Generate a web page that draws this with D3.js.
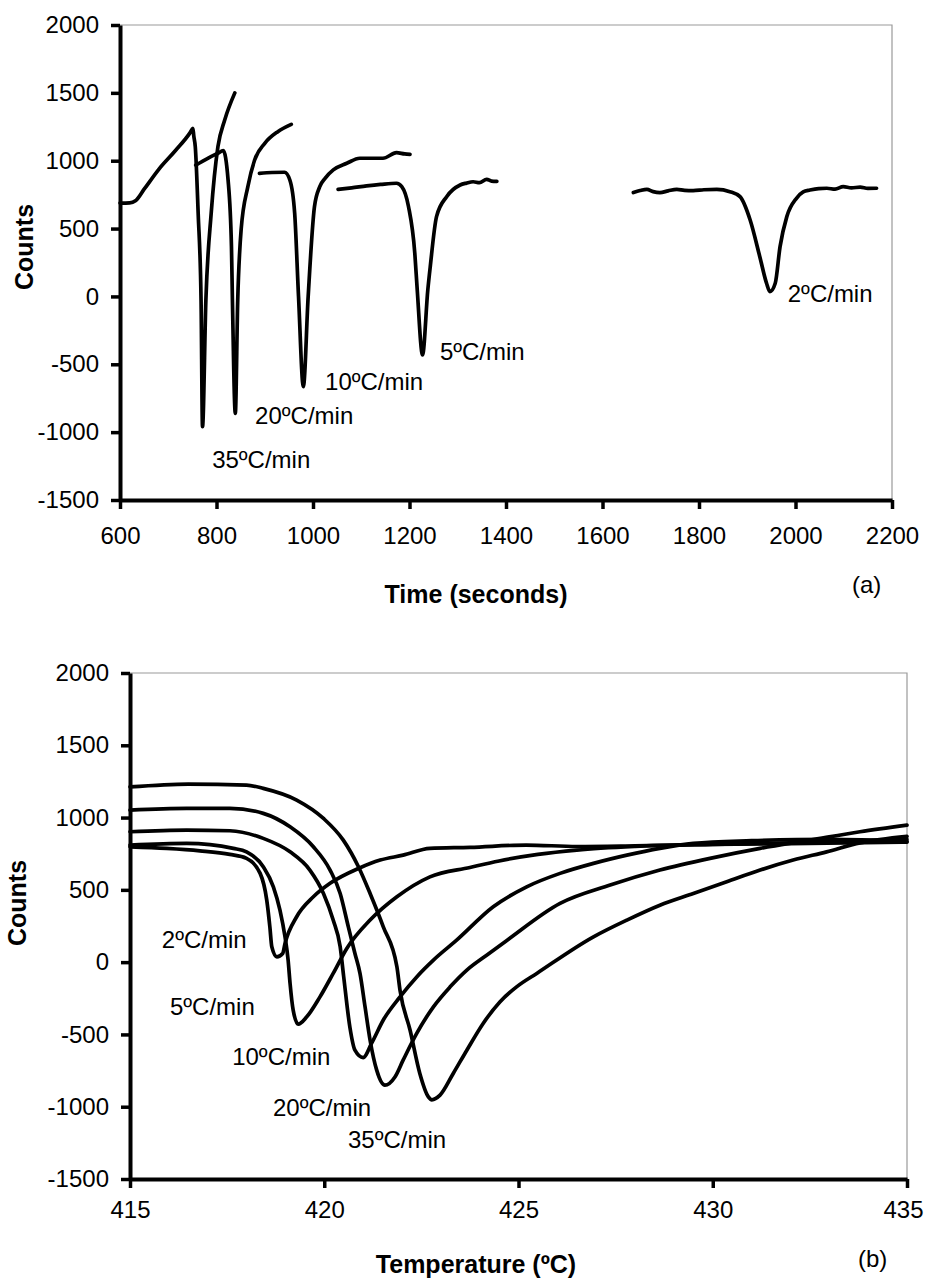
<!DOCTYPE html>
<html>
<head>
<meta charset="utf-8">
<script src="https://cdn.jsdelivr.net/npm/d3@7"></script>
<style>
  body { margin: 0; background: #fff; }
  text { font-family: 'Liberation Sans', Arial, sans-serif; fill: #000; }
</style>
</head>
<body>
<svg id="chart" width="925" height="1282"></svg>
<script>
// ---- shared ticks
const countTicks = [-1500, -1000, -500, 0, 500, 1000, 1500, 2000]
const timeTicks = [600, 800, 1000, 1200, 1400, 1600, 1800, 2000, 2200]
const tempTicks = [415, 420, 425, 430, 435]

// ---- panel (a): counts vs time (s), one trace per heating rate
const timeRate35 = [
  [600, 688], [620, 690], [632, 705], [650, 790], [680, 935], [715, 1075],
  [745, 1205], [751, 1238], [753, 1180], [756, 1104], [762, 613], [768, -26],
  [771, -960], [778, -26], [789, 613], [803, 1104], [817, 1300], [838, 1500],
]
const timeRate20 = [
  [757, 968], [782, 1018], [803, 1055], [814, 1074], [824, 858], [831, 367],
  [833, -26], [839, -861], [844, -26], [851, 490], [865, 809], [879, 1005],
  [900, 1128], [927, 1214], [955, 1268],
]
const timeRate10 = [
  [889, 907], [915, 913], [941, 915], [952, 858], [962, 613], [970, 0],
  [980, -665], [990, 0], [1003, 661], [1014, 809], [1025, 870], [1042, 932],
  [1070, 981], [1097, 1018], [1145, 1018], [1173, 1059], [1190, 1050], [1201, 1047],
]
const timeRate5 = [
  [1052, 789], [1080, 800], [1111, 814], [1140, 825], [1173, 834], [1184, 809],
  [1198, 661], [1211, 318], [1216, 50], [1227, -431], [1238, 50], [1243, 219],
  [1256, 588], [1277, 735], [1305, 821], [1318, 835], [1332, 845], [1345, 838],
  [1360, 863], [1370, 850], [1381, 848],
]
const timeRate2 = [
  [1664, 765], [1678, 780], [1692, 789], [1705, 772], [1719, 765], [1736, 778],
  [1754, 789], [1770, 782], [1788, 780], [1810, 786], [1837, 789], [1864, 772],
  [1885, 735], [1906, 563], [1926, 293], [1940, 97], [1947, 35], [1958, 97],
  [1968, 367], [1982, 588], [2002, 723], [2016, 770], [2030, 784], [2048, 795],
  [2065, 797], [2082, 790], [2099, 809], [2116, 800], [2134, 805], [2150, 796],
  [2168, 797],
]

// ---- panel (b): counts vs temperature (ºC)
const tempRate35 = [
  [415, 1212], [416.5, 1232], [418.0, 1225], [418.43, 1202], [419.29, 1121],
  [419.98, 994], [420.49, 844], [420.88, 660], [421.18, 475], [421.52, 244],
  [421.87, -32], [421.95, -194], [422.21, -471], [422.46, -770], [422.68, -932],
  [422.77, -952], [422.98, -920], [423.32, -770], [423.67, -609], [424.09, -424],
  [424.52, -275], [424.95, -171], [425.47, -78], [426.93, 175], [427.79, 291],
  [428.64, 394], [429.5, 475], [430.36, 556], [431.22, 637], [432.07, 706],
  [432.93, 763], [433.79, 825], [435, 870],
]
const tempRate20 = [
  [415, 1052], [416.46, 1064], [417.57, 1064], [418.43, 1029], [419.12, 936],
  [419.72, 798], [420.15, 637], [420.41, 475], [420.62, 244], [420.79, 60],
  [420.92, -78], [421.05, -309], [421.18, -540], [421.35, -747], [421.56, -851],
  [421.82, -794], [422.03, -678], [422.38, -493], [422.81, -309], [423.24, -171],
  [423.67, -55], [424.18, 48], [424.7, 150], [426.07, 406], [427.36, 533],
  [428.64, 637], [429.93, 718], [431.22, 787], [432.5, 844], [433.79, 902], [435, 948],
]
const tempRate10 = [
  [415, 902], [416.46, 913], [417.57, 909], [418.43, 856], [419.12, 763],
  [419.63, 637], [419.98, 475], [420.23, 291], [420.41, 106], [420.5, -100],
  [420.66, -450], [420.79, -609], [421.0, -660], [421.22, -560], [421.52, -400],
  [421.95, -240], [422.38, -102], [422.81, 14], [423.4, 150],
  [424.35, 383], [425.21, 521], [426.07, 614], [426.93, 683], [427.79, 740],
  [428.64, 787], [429.5, 821], [431, 840], [433, 850], [435, 835],
]
const tempRate5 = [
  [415, 810], [416.46, 821], [417.66, 787], [418.0, 763], [418.43, 660],
  [418.69, 521], [418.86, 360], [418.99, 175], [419.07, 14], [419.12, -147],
  [419.2, -332], [419.33, -429], [419.55, -378], [419.89, -240], [420.23, -78],
  [420.58, 95], [421.18, 291], [421.87, 452], [422.72, 590], [423.75, 655],
  [424.5, 700], [425.5, 745], [426.5, 775], [428, 800], [430, 815], [432, 825], [435, 850],
]
const tempRate2 = [
  [415, 798], [415.94, 787], [416.8, 770], [417.57, 745], [418.0, 718],
  [418.35, 614], [418.52, 429], [418.6, 244], [418.65, 106], [418.78, 37],
  [418.93, 60], [418.99, 129], [419.29, 314], [419.72, 452], [420.15, 545],
  [420.88, 648], [421.44, 706], [422.03, 740], [422.72, 787], [423.75, 794],
  [425.2, 810], [426.5, 800], [428, 805], [430, 815], [432, 820], [435, 830],
]

const svg = d3.select('#chart')

svg.append('rect').attr('width', 925).attr('height', 1282).attr('fill', '#fff')

function drawPanel(cfg) {
  const x = d3.scaleLinear().domain(cfg.xDomain).range(cfg.xRange)
  const y = d3.scaleLinear().domain([-1500, 2000]).range(cfg.yRange)

  const g = svg.append('g').attr('id', cfg.id)

  // thin grey frame on top and right
  g.append('path')
    .attr('d', `M${cfg.xRange[0]},${cfg.yRange[1]}H${cfg.xRange[1]}V${cfg.yRange[0]}`)
    .attr('fill', 'none')
    .attr('stroke', '#9a9a9a')
    .attr('stroke-width', 1.2)

  // traces
  const line = d3.line()
    .x((d) => x(d[0]))
    .y((d) => y(d[1]))
    .curve(d3.curveMonotoneX)

  g.append('g')
    .selectAll('path')
    .data(cfg.series)
    .join('path')
    .attr('d', (d) => line(d.values))
    .attr('fill', 'none')
    .attr('stroke', '#000')
    .attr('stroke-width', 3.7)
    .attr('stroke-linejoin', 'round')
    .attr('stroke-linecap', 'round')

  // rate labels
  g.append('g')
    .selectAll('text')
    .data(cfg.series)
    .join('text')
    .attr('x', (d) => x(d.label[0]))
    .attr('y', (d) => y(d.label[1]))
    .attr('font-size', 24)
    .text((d) => d.name)

  // axes (plain integers, hyphen minus)
  const fmt = (d) => String(d)
  const yAxis = g.append('g')
    .attr('transform', `translate(${cfg.xRange[0]},0)`)
    .call(d3.axisLeft(y).tickValues(countTicks).tickFormat(fmt)
      .tickSize(9).tickSizeOuter(0).tickPadding(12))
  const xAxis = g.append('g')
    .attr('transform', `translate(0,${cfg.yRange[0]})`)
    .call(d3.axisBottom(x).tickValues(cfg.xTicks).tickFormat(fmt)
      .tickSize(9).tickSizeOuter(0).tickPadding(cfg.xPad))

  ;[yAxis, xAxis].forEach((a) => {
    a.select('.domain').attr('stroke', '#000').attr('stroke-width', 4)
    a.selectAll('.tick line').attr('stroke', '#000').attr('stroke-width', 3.5)
    a.selectAll('.tick text')
      .attr('font-family', "'Liberation Sans', Arial, sans-serif")
      .attr('font-size', 24)
      .attr('fill', '#000')
  })

  // keep the last x label inside the page
  if (cfg.lastShift) {
    xAxis.selectAll('.tick text')
      .filter((d) => d === cfg.xTicks[cfg.xTicks.length - 1])
      .attr('dx', cfg.lastShift)
  }

  // axis titles
  g.append('text')
    .attr('transform', `translate(${cfg.yTitle[0]},${cfg.yTitle[1]}) rotate(-90)`)
    .attr('text-anchor', 'middle')
    .attr('font-size', 25)
    .attr('font-weight', 'bold')
    .text('Counts')

  g.append('text')
    .attr('x', cfg.xTitle[0])
    .attr('y', cfg.xTitle[1])
    .attr('text-anchor', 'middle')
    .attr('font-size', 25)
    .attr('font-weight', 'bold')
    .text(cfg.xLabel)

  g.append('text')
    .attr('x', cfg.tag[0])
    .attr('y', cfg.tag[1])
    .attr('font-size', 24)
    .text(cfg.tagText)
}

drawPanel({
  id: 'panel-a',
  xDomain: [600, 2200],
  xRange: [120, 892],
  yRange: [500, 25],
  xTicks: timeTicks,
  xPad: 18,
  xLabel: 'Time (seconds)',
  xTitle: [476, 603],
  yTitle: [33, 247],
  tag: [852, 593],
  tagText: '(a)',
  series: [
    { name: '35ºC/min', values: timeRate35, label: [791, -1264] },
    { name: '20ºC/min', values: timeRate20, label: [880, -940] },
    { name: '10ºC/min', values: timeRate10, label: [1025, -689] },
    { name: '5ºC/min', values: timeRate5, label: [1263, -468] },
    { name: '2ºC/min', values: timeRate2, label: [1984, -41] },
  ],
})

drawPanel({
  id: 'panel-b',
  xDomain: [415, 435],
  xRange: [130, 907],
  yRange: [1179, 673],
  xTicks: tempTicks,
  xPad: 13,
  lastShift: -4,
  xLabel: 'Temperature (ºC)',
  xTitle: [476, 1273],
  yTitle: [26, 903],
  tag: [858, 1267],
  tagText: '(b)',
  series: [
    { name: '35ºC/min', values: tempRate35, label: [420.61, -1287] },
    { name: '20ºC/min', values: tempRate20, label: [418.68, -1066] },
    { name: '10ºC/min', values: tempRate10, label: [417.63, -713] },
    { name: '5ºC/min', values: tempRate5, label: [416.03, -367] },
    { name: '2ºC/min', values: tempRate2, label: [415.82, 97] },
  ],
})
</script>
</body>
</html>
